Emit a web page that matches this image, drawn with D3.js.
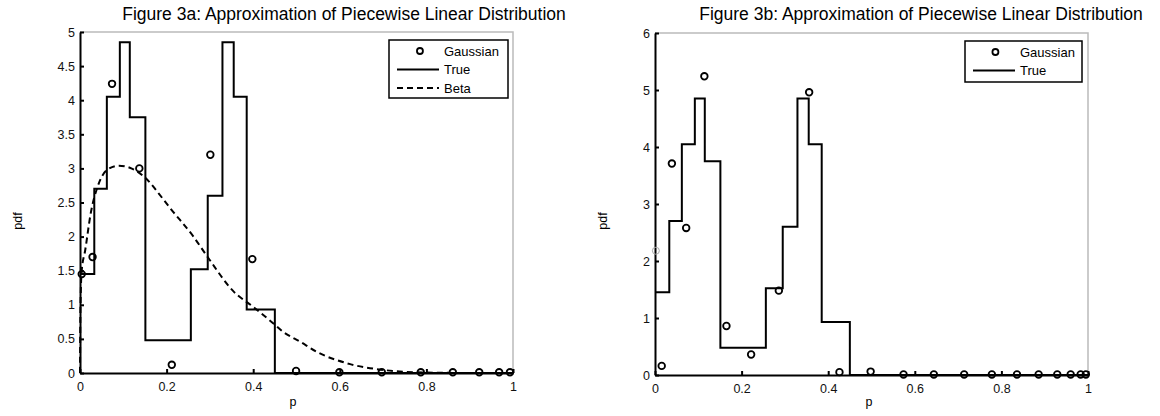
<!DOCTYPE html>
<html>
<head>
<meta charset="utf-8">
<script src="https://cdn.jsdelivr.net/npm/d3@7"></script>
<style>
  body { margin: 0; background: #fff; }
  svg { font-family: "Liberation Sans", Arial, sans-serif; }
</style>
</head>
<body>
<svg id="chart" width="1160" height="416"></svg>
<script>
// True piecewise density (bin edges and heights), shared by both panels
var binEdges = [0, 0.033, 0.062, 0.092, 0.115, 0.151, 0.256, 0.295, 0.329, 0.355, 0.385, 0.45, 1];
var trueHeights = [1.45, 2.7, 4.05, 4.85, 3.75, 0.48, 1.52, 2.6, 4.85, 4.05, 0.93, 0, 0];

// Figure 3a: Gaussian approximation points
var gaussPa = [0.004, 0.029, 0.074, 0.137, 0.212, 0.301, 0.398, 0.499, 0.599, 0.697, 0.787, 0.861, 0.922, 0.968, 0.993];
var gaussYa = [1.45, 1.70, 4.24, 3.00, 0.12, 3.20, 1.67, 0.03, 0.01, 0.01, 0.01, 0.01, 0.01, 0.01, 0.01];

// Figure 3a: Beta fit
var betaP = [0, 0.0005, 0.0015, 0.004, 0.012, 0.025, 0.04, 0.063, 0.09, 0.115, 0.146, 0.192, 0.208, 0.262, 0.296, 0.354, 0.40, 0.446, 0.47, 0.508, 0.547, 0.624, 0.70, 0.777, 0.85, 1.0];
var betaY = [0, 0.6, 1.1, 1.5, 1.8, 2.35, 2.72, 2.98, 3.04, 3.01, 2.89, 2.55, 2.42, 2.0, 1.69, 1.2, 0.97, 0.73, 0.6, 0.46, 0.31, 0.13, 0.045, 0.01, 0.002, 0];

// Figure 3b: Gaussian approximation points
var gaussPb = [0.0155, 0.039, 0.072, 0.114, 0.165, 0.222, 0.286, 0.356, 0.426, 0.498, 0.574, 0.644, 0.714, 0.778, 0.836, 0.886, 0.929, 0.960, 0.983, 0.995];
var gaussYb = [0.16, 3.71, 2.58, 5.24, 0.86, 0.36, 1.48, 4.96, 0.05, 0.06, 0.01, 0.01, 0.01, 0.01, 0.01, 0.01, 0.01, 0.01, 0.01, 0.01];
var faintP = [0.002];
var faintY = [2.18];

var xTicks = [0, 0.2, 0.4, 0.6, 0.8, 1];
var yTicksA = [0, 0.5, 1, 1.5, 2, 2.5, 3, 3.5, 4, 4.5, 5];
var yTicksB = [0, 1, 2, 3, 4, 5, 6];

var svg = d3.select("#chart");

function drawPanel(opts) {
    var x = d3.scaleLinear().domain([0, 1]).range([opts.left, opts.right]);
    var y = d3.scaleLinear().domain([0, opts.ymax]).range([opts.bottom, opts.top]);
    var g = svg.append("g");

    // light box on top and right
    g.append("path")
        .attr("d", "M" + opts.left + "," + opts.top + "H" + opts.right + "V" + opts.bottom)
        .attr("fill", "none")
        .attr("stroke", "#bbb")
        .attr("stroke-width", 1.5);

    // axes with inward ticks
    var xAxis = g.append("g")
        .attr("transform", "translate(0," + opts.bottom + ")")
        .call(d3.axisBottom(x).tickValues(xTicks).tickFormat(d3.format("~g"))
            .tickSizeInner(-4).tickSizeOuter(0).tickPadding(9));
    var yAxis = g.append("g")
        .attr("transform", "translate(" + opts.left + ",0)")
        .call(d3.axisLeft(y).tickValues(opts.yTicks).tickFormat(d3.format("~g"))
            .tickSizeInner(-4).tickSizeOuter(0).tickPadding(5));
    [xAxis, yAxis].forEach(function (a) {
        a.select(".domain").attr("stroke", "#000").attr("stroke-width", 2);
        a.selectAll(".tick line").attr("stroke", "#000").attr("stroke-width", 2);
        a.selectAll(".tick text").attr("fill", "#111").style("font-size", "12.5px");
    });

    // true density as a step line
    var stepData = binEdges.map(function (e, i) { return [e, trueHeights[i]]; });
    g.append("path")
        .datum(stepData)
        .attr("d", d3.line().x(function (d) { return x(d[0]); }).y(function (d) { return y(d[1]); }).curve(d3.curveStepAfter))
        .attr("fill", "none")
        .attr("stroke", "#000")
        .attr("stroke-width", 2);

    if (opts.betaP) {
        g.append("path")
            .datum(d3.zip(opts.betaP, opts.betaY))
            .attr("d", d3.line().x(function (d) { return x(d[0]); }).y(function (d) { return y(d[1]); }).curve(d3.curveMonotoneX))
            .attr("fill", "none")
            .attr("stroke", "#000")
            .attr("stroke-width", 2)
            .attr("stroke-dasharray", "6,4");
    }

    if (opts.faintP) {
        g.selectAll("circle.faint")
            .data(d3.zip(opts.faintP, opts.faintY))
            .enter().append("circle")
            .attr("class", "faint")
            .attr("cx", function (d) { return x(d[0]); })
            .attr("cy", function (d) { return y(d[1]); })
            .attr("r", 3.5)
            .attr("fill", "none")
            .attr("stroke", "#aaa")
            .attr("stroke-width", 1);
    }

    g.selectAll("circle.gauss")
        .data(d3.zip(opts.gaussP, opts.gaussY))
        .enter().append("circle")
        .attr("class", "gauss")
        .attr("cx", function (d) { return x(d[0]); })
        .attr("cy", function (d) { return y(d[1]); })
        .attr("r", 3.3)
        .attr("fill", "none")
        .attr("stroke", "#000")
        .attr("stroke-width", 1.8);

    // titles and labels
    g.append("text")
        .attr("x", opts.titleX).attr("y", 20)
        .attr("text-anchor", "middle")
        .style("font-size", "17.5px")
        .text(opts.title);
    g.append("text")
        .attr("x", opts.xLabelX).attr("y", 406)
        .attr("text-anchor", "middle")
        .style("font-size", "12.5px")
        .text("p");
    g.append("text")
        .attr("transform", "translate(" + opts.yLabelX + ",221) rotate(-90)")
        .attr("text-anchor", "middle")
        .attr("dy", "0.35em")
        .style("font-size", "12.5px")
        .text("pdf");

    // legend
    var lg = opts.legend;
    g.append("rect")
        .attr("x", lg.x).attr("y", lg.y)
        .attr("width", lg.w).attr("height", lg.h)
        .attr("fill", "#fff")
        .attr("stroke", "#000")
        .attr("stroke-width", 1.5);
    lg.items.forEach(function (name, i) {
        var cy = lg.y + 11 + i * 18.5;
        if (name === "Gaussian") {
            g.append("circle").attr("cx", lg.x + lg.w * 0.26).attr("cy", cy).attr("r", 3)
                .attr("fill", "none").attr("stroke", "#000").attr("stroke-width", 1.8);
        } else {
            g.append("line")
                .attr("x1", lg.x + 8).attr("x2", lg.x + 50)
                .attr("y1", cy).attr("y2", cy)
                .attr("stroke", "#000").attr("stroke-width", 2)
                .attr("stroke-dasharray", name === "Beta" ? "6,4" : null);
        }
        g.append("text")
            .attr("x", lg.x + 55).attr("y", cy)
            .attr("dy", "0.35em")
            .style("font-size", "13px")
            .text(name);
    });
}

drawPanel({
    left: 80, right: 513, top: 32, bottom: 373, ymax: 5, yTicks: yTicksA,
    gaussP: gaussPa, gaussY: gaussYa, betaP: betaP, betaY: betaY,
    title: "Figure 3a: Approximation of Piecewise Linear Distribution",
    titleX: 344, xLabelX: 293, yLabelX: 18,
    legend: { x: 389, y: 40, w: 119, h: 58, items: ["Gaussian", "True", "Beta"] }
});

drawPanel({
    left: 655, right: 1088, top: 33, bottom: 375, ymax: 6, yTicks: yTicksB,
    gaussP: gaussPb, gaussY: gaussYb, faintP: faintP, faintY: faintY,
    title: "Figure 3b: Approximation of Piecewise Linear Distribution",
    titleX: 921, xLabelX: 869, yLabelX: 603,
    legend: { x: 965, y: 41, w: 117, h: 41, items: ["Gaussian", "True"] }
});
</script>
</body>
</html>
